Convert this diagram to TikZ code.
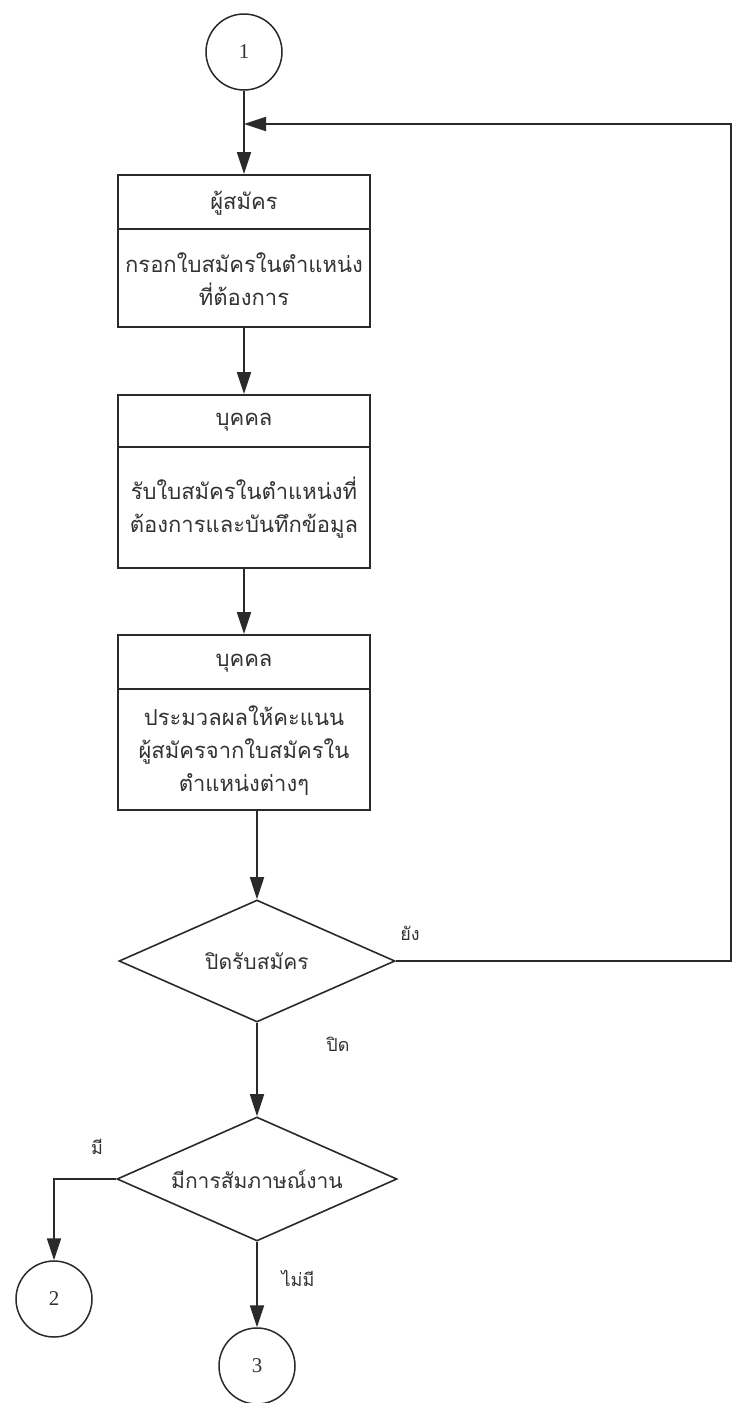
\documentclass[tikz,border=0pt]{standalone}
\usepackage{fontspec}
\setmainfont{Liberation Serif}
\newfontfamily\thaifont[Script=Thai]{Loma}
\usetikzlibrary{shapes.geometric,arrows.meta}
\definecolor{ink}{HTML}{2A2A2A}
\definecolor{txt}{HTML}{333333}
\begin{document}
\begin{tikzpicture}[x=1pt,y=-1pt,
  line/.style={draw=ink, line width=1.8pt},
  arr/.style={line, -{Triangle[length=22pt,width=14pt]}},
  procbox/.style={draw=ink, line width=2pt, rectangle, minimum width=252pt, inner sep=0pt},
  connector/.style={draw=ink, line width=1.5pt, circle, minimum size=76pt, inner sep=0pt,
    font=\fontsize{21}{23}\selectfont, text=txt},
  decision/.style={draw=ink, line width=1.6pt, diamond, aspect=2.26, inner sep=0pt, text=txt,
    font=\thaifont\fontsize{21}{24}\selectfont},
  boxtext/.style={align=center, text=txt, inner sep=0pt,
    font=\thaifont\fontsize{22}{33}\selectfont},
  lbl/.style={text=txt, inner sep=0pt, font=\thaifont\fontsize{18}{20}\selectfont}
]
\fill[white] (0,0) rectangle (731,1403);
\useasboundingbox (0,0) rectangle (731,1403);

% start connector
\node[connector] (c1) at (244,52) {1};

% process boxes: a title band above a body
\node[procbox, minimum height=152pt] (b1) at (244,251) {};
\draw[line] ([yshift=-55pt]b1.north west) -- ([yshift=-55pt]b1.north east);
\node[boxtext] (b1t) at (244,203) {ผู้สมัคร};
\node[boxtext] (b1b) at (244,279) {กรอกใบสมัครในตำแหน่ง\\ที่ต้องการ};

\node[procbox, minimum height=173pt] (b2) at (244,481.5) {};
\draw[line] ([yshift=-53pt]b2.north west) -- ([yshift=-53pt]b2.north east);
\node[boxtext] (b2t) at (244,422) {บุคคล};
\node[boxtext] (b2b) at (244,508) {รับใบสมัครในตำแหน่งที่\\ต้องการและบันทึกข้อมูล};

\node[procbox, minimum height=175pt] (b3) at (244,722.5) {};
\draw[line] ([yshift=-55pt]b3.north west) -- ([yshift=-55pt]b3.north east);
\node[boxtext] (b3t) at (244,663) {บุคคล};
\node[boxtext] (b3b) at (244,751) {ประมวลผลให้คะแนน\\ผู้สมัครจากใบสมัครใน\\ตำแหน่งต่างๆ};

% decisions
\node[decision, minimum width=276pt, minimum height=122pt] (d1) at (257,961) {ปิดรับสมัคร};
\node[decision, minimum width=280pt, minimum height=124pt] (d2) at (257,1179) {มีการสัมภาษณ์งาน};

% end connectors
\node[connector] (c2) at (54,1299) {2};
\node[connector] (c3) at (257,1366) {3};

% loop-back junction and right-hand return path
\coordinate (jn) at (244,124);
\coordinate (rt) at (731,124);
\coordinate (rb) at (731,961);

% flow
\draw[line] (c1) -- (jn);
\draw[arr] (jn) -- (b1.north);
\draw[arr] (b1.south) -- (b2.north);
\draw[arr] (b2.south) -- (b3.north);
\draw[arr] (d1.north |- b3.south) -- (d1.north);
\draw[arr] (d1.east) -- (rb) -- (rt) -- (jn);
\draw[arr] (d1.south) -- (d2.north);
\draw[arr] (d2.west) -| (c2.north);
\draw[arr] (d2.south) -- (c3.north);

% branch labels
\node[lbl] (ly) at (410,933) {ยัง};
\node[lbl] (lc) at (338,1044) {ปิด};
\node[lbl] (lm) at (97,1147) {มี};
\node[lbl] (ln) at (298,1278) {ไม่มี};
\end{tikzpicture}
\end{document}
